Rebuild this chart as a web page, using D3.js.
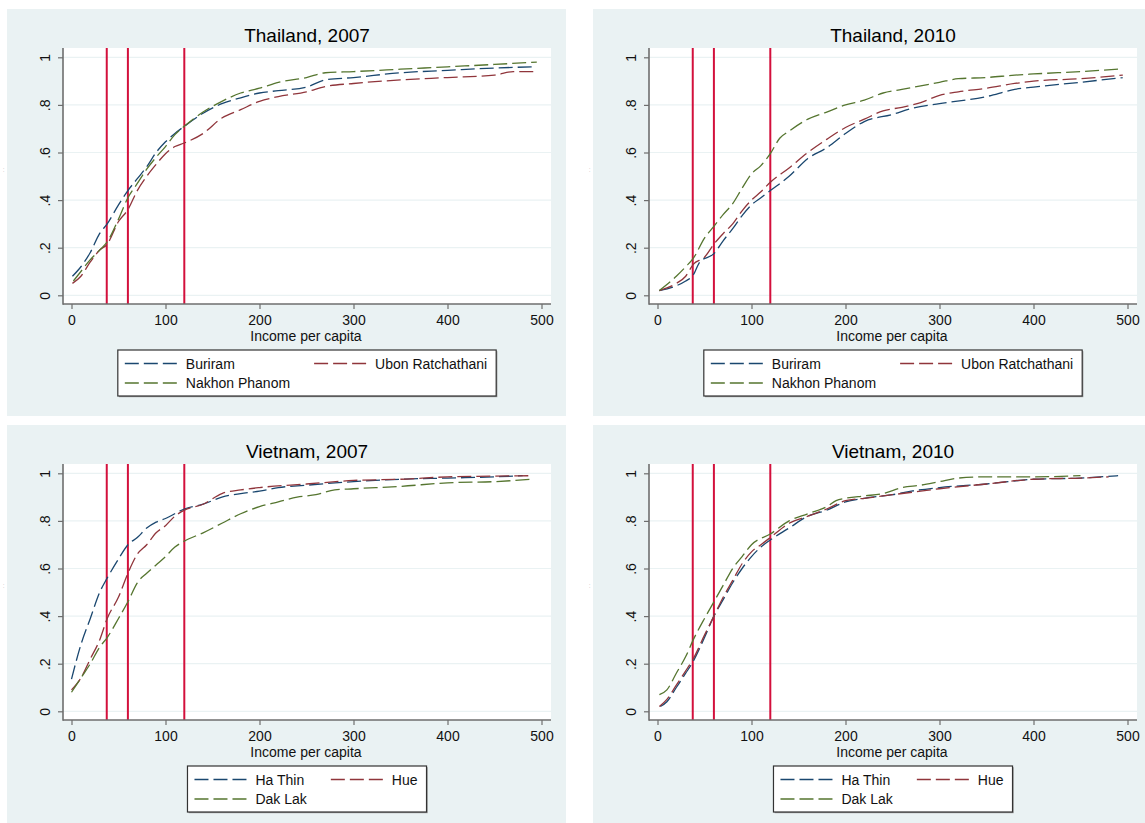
<!DOCTYPE html>
<html>
<head>
<meta charset="utf-8">
<script src="https://cdn.jsdelivr.net/npm/d3@7"></script>
<style>
html,body{margin:0;padding:0;background:#ffffff;}
svg{display:block;font-family:"Liberation Sans",Arial,sans-serif;}
</style>
</head>
<body>
<svg id="chart" width="1145" height="823"></svg>
<script>
// ---------------- data ----------------
const titles = ["Thailand, 2007", "Thailand, 2010", "Vietnam, 2007", "Vietnam, 2010"];
const thaiProvinces = ["Buriram", "Ubon Ratchathani", "Nakhon Phanom"];
const vietProvinces = ["Ha Thin", "Hue", "Dak Lak"];
const seriesColors = ["#1A476F", "#90353B", "#55752F"];
const xTicks = [0, 100, 200, 300, 400, 500];
const yTicks = [0, 0.2, 0.4, 0.6, 0.8, 1];
const yTickLabels = ["0", ".2", ".4", ".6", ".8", "1"];
const povertyLines = [37.5, 60, 120];
const xAxisTitle = "Income per capita";

// Thailand 2007 [income, cumulative share]
const th07Buriram = [[1,0.08],[10,0.12],[20,0.18],[30,0.26],[38,0.30],[50,0.38],[60,0.44],[70,0.49],[80,0.54],[90,0.60],[100,0.645],[110,0.68],[120,0.71],[140,0.765],[160,0.805],[180,0.83],[200,0.85],[220,0.86],[250,0.875],[270,0.905],[300,0.915],[350,0.935],[400,0.945],[450,0.955],[492,0.96]];
const th07Ubon = [[1,0.05],[10,0.08],[20,0.14],[30,0.19],[38,0.215],[50,0.31],[60,0.36],[70,0.44],[80,0.50],[90,0.55],[100,0.595],[110,0.625],[120,0.64],[140,0.68],[160,0.745],[180,0.78],[200,0.815],[220,0.835],[250,0.855],[270,0.877],[300,0.89],[350,0.905],[400,0.915],[450,0.925],[470,0.94],[495,0.94]];
const th07Nakhon = [[2,0.06],[10,0.10],[20,0.15],[30,0.19],[38,0.225],[50,0.32],[60,0.41],[70,0.47],[80,0.53],[90,0.58],[100,0.625],[110,0.675],[120,0.71],[140,0.77],[160,0.815],[180,0.85],[200,0.87],[220,0.895],[250,0.915],[270,0.935],[300,0.94],[350,0.95],[400,0.96],[450,0.97],[495,0.98]];

// Thailand 2010
const th10Buriram = [[2,0.02],[20,0.04],[30,0.06],[38,0.085],[45,0.14],[60,0.175],[70,0.23],[80,0.28],[90,0.335],[100,0.38],[110,0.41],[120,0.44],[140,0.50],[160,0.575],[180,0.62],[200,0.68],[220,0.73],[250,0.76],[270,0.785],[300,0.805],[350,0.835],[380,0.865],[400,0.875],[450,0.895],[495,0.915]];
const th10Ubon = [[2,0.02],[20,0.05],[30,0.08],[38,0.13],[50,0.16],[60,0.215],[70,0.26],[80,0.30],[90,0.355],[100,0.40],[110,0.435],[120,0.475],[140,0.535],[160,0.60],[180,0.655],[200,0.705],[220,0.74],[240,0.775],[260,0.79],[280,0.81],[300,0.84],[320,0.855],[350,0.87],[380,0.89],[400,0.90],[450,0.91],[495,0.925]];
const th10Nakhon = [[2,0.02],[20,0.08],[30,0.12],[38,0.155],[50,0.24],[60,0.29],[70,0.34],[80,0.385],[90,0.45],[100,0.51],[110,0.545],[120,0.595],[130,0.66],[140,0.69],[160,0.74],[180,0.77],[200,0.80],[220,0.82],[240,0.85],[260,0.865],[280,0.88],[300,0.895],[320,0.91],[350,0.915],[380,0.925],[400,0.93],[450,0.94],[490,0.95]];

// Vietnam 2007
const vn07HaThin = [[0,0.135],[10,0.28],[20,0.39],[30,0.50],[38,0.56],[50,0.64],[60,0.70],[70,0.73],[80,0.77],[90,0.795],[100,0.81],[120,0.85],[140,0.87],[160,0.90],[180,0.915],[200,0.925],[220,0.94],[250,0.95],[300,0.965],[350,0.975],[400,0.98],[450,0.985],[480,0.99]];
const vn07Hue = [[0,0.09],[10,0.14],[20,0.22],[30,0.30],[38,0.39],[50,0.48],[60,0.58],[70,0.66],[80,0.70],[90,0.75],[100,0.78],[110,0.82],[120,0.845],[140,0.87],[160,0.915],[180,0.93],[200,0.94],[250,0.955],[300,0.97],[350,0.975],[400,0.985],[450,0.988],[490,0.99]];
const vn07DakLak = [[0,0.08],[10,0.14],[20,0.20],[30,0.27],[38,0.31],[50,0.39],[60,0.46],[70,0.54],[80,0.58],[90,0.615],[100,0.65],[110,0.69],[120,0.715],[140,0.75],[160,0.79],[180,0.83],[200,0.86],[220,0.88],[240,0.90],[260,0.91],[280,0.93],[300,0.935],[350,0.945],[400,0.96],[450,0.965],[490,0.975]];

// Vietnam 2010
const vn10HaThin = [[3,0.02],[10,0.04],[20,0.10],[30,0.16],[38,0.21],[50,0.31],[60,0.40],[70,0.47],[80,0.54],[90,0.60],[100,0.65],[110,0.69],[120,0.72],[140,0.77],[160,0.82],[180,0.845],[200,0.88],[220,0.895],[250,0.91],[270,0.925],[300,0.94],[350,0.955],[400,0.975],[450,0.98],[490,0.99]];
const vn10Hue = [[2,0.02],[10,0.05],[20,0.11],[30,0.17],[38,0.22],[50,0.32],[60,0.40],[70,0.48],[80,0.55],[90,0.62],[100,0.67],[110,0.70],[120,0.73],[140,0.79],[160,0.82],[180,0.85],[200,0.885],[220,0.895],[250,0.91],[280,0.925],[300,0.935],[350,0.955],[400,0.975],[450,0.98],[480,0.985]];
const vn10DakLak = [[2,0.07],[10,0.09],[20,0.16],[30,0.23],[38,0.30],[50,0.39],[60,0.46],[70,0.53],[80,0.60],[90,0.65],[100,0.70],[120,0.745],[140,0.80],[160,0.83],[180,0.86],[190,0.885],[200,0.895],[220,0.905],[240,0.915],[260,0.94],[280,0.95],[300,0.965],[320,0.98],[350,0.985],[400,0.985],[450,0.99]];

const panelSeries = [
  [th07Buriram, th07Ubon, th07Nakhon],
  [th10Buriram, th10Ubon, th10Nakhon],
  [vn07HaThin, vn07Hue, vn07DakLak],
  [vn10HaThin, vn10Hue, vn10DakLak]
];
const panelNames = [thaiProvinces, thaiProvinces, vietProvinces, vietProvinces];

// ---------------- drawing ----------------
const svg = d3.select("#chart");
const offsets = [[0, 0], [586, 0], [0, 416], [586, 416]];

const BG = "#EAF2F3";
const AXIS = "#6e6e6e";
const FS = 14;

// tiny marks left of panels (stray y titles)
offsets.forEach(([ox, oy]) => {
  svg.append("text")
    .attr("transform", `translate(${ox + 4},${oy + 170}) rotate(-90)`)
    .attr("text-anchor", "middle")
    .attr("font-size", 5)
    .attr("fill", "#999")
    .text(". .");
});

titles.forEach((title, i) => {
  const [ox, oy] = offsets[i];
  const g = svg.append("g").attr("transform", `translate(${ox},${oy})`);

  // panel background
  g.append("rect").attr("x", 7).attr("y", 9).attr("width", 559).attr("height", 407).attr("fill", BG);

  const plotL = 63, plotR = 551, plotT = 48, plotB = 304;
  g.append("rect").attr("x", plotL).attr("y", plotT).attr("width", plotR - plotL).attr("height", plotB - plotT).attr("fill", "#ffffff");

  const x = d3.scaleLinear().domain([0, 500]).range([71.5, 541.5]);
  const y = d3.scaleLinear().domain([0, 1]).range([295.3, 57.3]);

  // gridlines
  g.append("g").selectAll("line").data(yTicks).join("line")
    .attr("x1", plotL).attr("x2", plotR)
    .attr("y1", d => y(d)).attr("y2", d => y(d))
    .attr("stroke", BG).attr("stroke-width", 1.2);

  // clip
  const clipId = "clip" + i;
  g.append("clipPath").attr("id", clipId).append("rect")
    .attr("x", plotL).attr("y", plotT).attr("width", plotR - plotL).attr("height", plotB - plotT);

  const plot = g.append("g").attr("clip-path", `url(#${clipId})`);

  // poverty lines
  plot.selectAll("line.pov").data(povertyLines).join("line")
    .attr("class", "pov")
    .attr("x1", d => x(d)).attr("x2", d => x(d))
    .attr("y1", plotT).attr("y2", plotB)
    .attr("stroke", "#D3103C").attr("stroke-width", 2);

  // CDF lines
  const line = d3.line().x(d => x(d[0])).y(d => y(d[1])).curve(d3.curveMonotoneX);
  panelSeries[i].forEach((s, k) => {
    plot.append("path").datum(s)
      .attr("d", line)
      .attr("fill", "none")
      .attr("stroke", seriesColors[k])
      .attr("stroke-width", 1.3)
      .attr("stroke-dasharray", "14,5");
  });

  // axes
  const xAxis = d3.axisBottom(x).tickValues(xTicks).tickSize(5).tickFormat(d3.format("d"));
  const xg = g.append("g").attr("transform", `translate(0,${plotB})`).call(xAxis);
  xg.select(".domain").remove();
  xg.selectAll(".tick line").attr("stroke", AXIS).attr("stroke-width", 1.2);
  xg.selectAll(".tick text").attr("y", 20.8).attr("dy", null)
    .attr("font-size", FS).attr("fill", "#111").attr("font-family", "Liberation Sans, Arial, sans-serif");

  const yAxis = d3.axisLeft(y).tickValues(yTicks).tickSize(5).tickFormat((d, j) => yTickLabels[j]);
  const yg = g.append("g").attr("transform", `translate(${plotL},0)`).call(yAxis);
  yg.select(".domain").remove();
  yg.selectAll(".tick line").attr("stroke", AXIS).attr("stroke-width", 1.2);
  yg.selectAll(".tick text")
    .attr("x", null).attr("dy", null)
    .attr("transform", "translate(-13,0) rotate(-90)")
    .attr("text-anchor", "middle")
    .attr("font-size", FS).attr("fill", "#111").attr("font-family", "Liberation Sans, Arial, sans-serif");

  g.append("line").attr("x1", plotL).attr("x2", plotL).attr("y1", plotT).attr("y2", plotB + 0.8)
    .attr("stroke", AXIS).attr("stroke-width", 1.6);
  g.append("line").attr("x1", plotL).attr("x2", plotR).attr("y1", plotB).attr("y2", plotB)
    .attr("stroke", AXIS).attr("stroke-width", 1.6);

  // title
  g.append("text").attr("x", (plotL + plotR) / 2).attr("y", 41.5)
    .attr("text-anchor", "middle").attr("font-size", 19).attr("fill", "#000").text(title);

  // x axis title
  g.append("text").attr("x", (plotL + plotR) / 2 - 1).attr("y", 341)
    .attr("text-anchor", "middle").attr("font-size", FS).attr("fill", "#111").text(xAxisTitle);

  // legend
  const names = panelNames[i];
  const lg = g.append("g");
  const pad = 7, sampleW = 53, sampleGap = 8, colGap = 24;
  const measure = t => {
    const tt = lg.append("text").attr("font-size", FS).text(t);
    const w = tt.node().getComputedTextLength();
    tt.remove();
    return w;
  };
  const col1W = Math.max(measure(names[0]), measure(names[2]));
  const col2W = measure(names[1]);
  const boxW = pad + sampleW + sampleGap + col1W + colGap + sampleW + sampleGap + col2W + pad + 2;
  const boxX = (plotL + plotR) / 2 - boxW / 2;
  const boxY = 350, boxH = 46;
  lg.append("rect").attr("x", boxX + 1.2).attr("y", boxY + 1.2).attr("width", boxW).attr("height", boxH)
    .attr("fill", "#9a9a9a");
  lg.append("rect").attr("x", boxX).attr("y", boxY).attr("width", boxW).attr("height", boxH)
    .attr("fill", "#ffffff").attr("stroke", "#333").attr("stroke-width", 1.2);
  const items = [
    {k: 0, col: 0, row: 0},
    {k: 1, col: 1, row: 0},
    {k: 2, col: 0, row: 1}
  ];
  items.forEach(it => {
    const sx = boxX + pad + (it.col === 1 ? sampleW + sampleGap + col1W + colGap : 0);
    const sy = boxY + 13.5 + it.row * 19.5;
    lg.append("line").attr("x1", sx).attr("x2", sx + sampleW).attr("y1", sy).attr("y2", sy)
      .attr("stroke", seriesColors[it.k]).attr("stroke-width", 1.3).attr("stroke-dasharray", "14,5");
    lg.append("text").attr("x", sx + sampleW + sampleGap).attr("y", sy + 5)
      .attr("font-size", FS).attr("fill", "#111").text(names[it.k]);
  });
});
</script>
</body>
</html>
